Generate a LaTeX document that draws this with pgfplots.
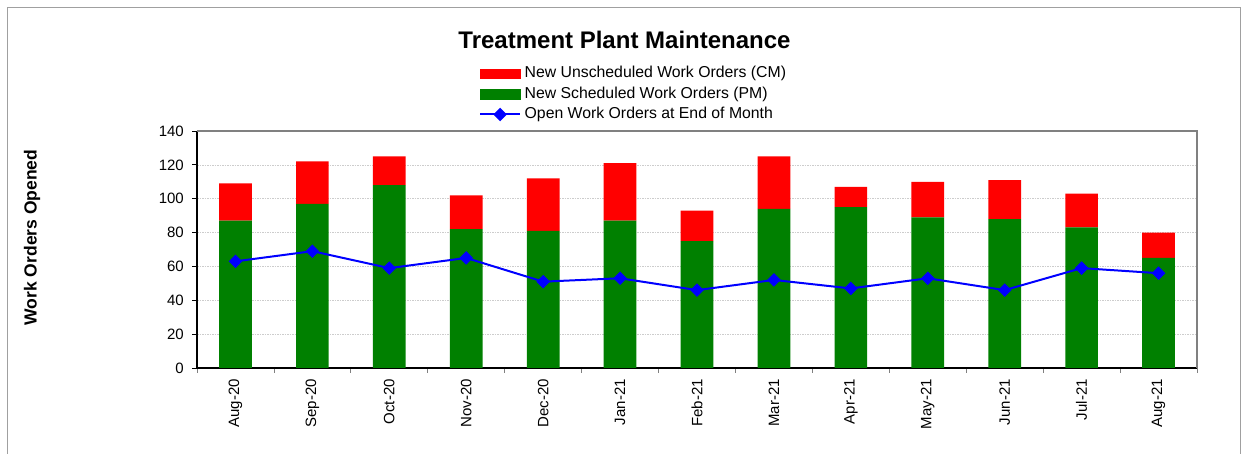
\documentclass[border=0pt]{standalone}
\usepackage{fontspec}
\setmainfont{Liberation Sans}
\usepackage{pgfplots}
\pgfplotsset{compat=1.18}
\definecolor{pmgreen}{HTML}{008000}
\definecolor{cmred}{HTML}{FF0000}
\definecolor{openblue}{HTML}{0000FF}
\definecolor{gridgray}{HTML}{CDCDCD}
\definecolor{framegray}{HTML}{A0A0A0}
\definecolor{boxgray}{HTML}{808080}
\begin{document}
\begin{tikzpicture}[x=1bp,y=1bp]
\useasboundingbox (0,0) rectangle (1241,454);
\draw[framegray, line width=1bp] (7,-3) -- (7,446) -- (1240,446) -- (1240,-3);
\pgfplotsset{
  common/.style={
    at={(197bp,86bp)}, anchor=south west, scale only axis,
    width=1000bp, height=237bp,
    xmin=-0.5, xmax=12.5, ymin=0, ymax=140,
  }
}
\begin{axis}[common,
  ybar stacked, bar width=32.7bp,
  axis lines=left, axis line style={-, black, line width=1.1bp},
  ytick={0,20,...,140},
  xtick={0,...,12},
  xticklabels={Aug-20,Sep-20,Oct-20,Nov-20,Dec-20,Jan-21,Feb-21,Mar-21,Apr-21,May-21,Jun-21,Jul-21,Aug-21},
  minor xtick={-0.5,0.5,...,12.5},
  tick align=outside,
  major tick length=5bp, minor tick length=5bp,
  major x tick style={draw=none},
  minor x tick style={boxgray, line width=0.8bp},
  major y tick style={black, line width=0.8bp},
  ymajorgrids,
  major grid style={gridgray, dash pattern=on 1.5bp off 1bp, line width=0.6bp},
  /pgf/number format/assume math mode=true,
  tick label style={font=\fontsize{15bp}{17bp}\selectfont},
  xticklabel style={rotate=90, anchor=east, inner sep=0pt, xshift=-6bp},
  yticklabel style={anchor=east, inner sep=0pt, xshift=-8bp},
  title={Treatment Plant Maintenance},
  title style={at={(0.4275,1.357)}, anchor=center, yshift=0pt, font=\bfseries\fontsize{24bp}{28bp}\selectfont},
  ylabel={Work Orders Opened},
  ylabel style={at={(-0.1648,0.5506)}, anchor=center, font=\bfseries\fontsize{17.5bp}{20bp}\selectfont},
  clip=false,
]
% New Scheduled Work Orders (PM)
\addplot[fill=pmgreen, draw=none] coordinates {
  (0,87) (1,97) (2,108) (3,82) (4,81) (5,87) (6,75) (7,94) (8,95) (9,89) (10,88) (11,83) (12,65)};
% New Unscheduled Work Orders (CM)
\addplot[fill=cmred, draw=none] coordinates {
  (0,22) (1,25) (2,17) (3,20) (4,31) (5,34) (6,18) (7,31) (8,12) (9,21) (10,23) (11,20) (12,15)};
\draw[boxgray, line width=1.6bp] (rel axis cs:0,1) -- (rel axis cs:1,1) -- (rel axis cs:1,0);
\draw[black, line width=1.1bp] (rel axis cs:0,0) -- (rel axis cs:0,1);
\end{axis}
\begin{axis}[common, hide axis,
  legend style={draw=none, fill=none, inner xsep=0pt, inner ysep=0pt,
    at={(0.282,1.2797)}, anchor=north west,
    nodes={inner sep=2bp, text height=11bp, text depth=3bp},
    row sep=2.3bp,
    /tikz/every odd column/.append style={column sep=1.5bp},
    font=\fontsize{15.8bp}{18bp}\selectfont},
  legend cell align=left,
]
\addlegendimage{legend image code/.code={\fill[cmred] (0bp,-4.6bp) rectangle (40bp,4.6bp);}}
\addlegendentry{New Unscheduled Work Orders (CM)}
\addlegendimage{legend image code/.code={\fill[pmgreen] (0bp,-4.6bp) rectangle (40bp,4.6bp);}}
\addlegendentry{New Scheduled Work Orders (PM)}
\addplot[openblue, line width=2bp, mark=square*, mark size=3.8bp, mark options={rotate=45, solid, fill=openblue},
  legend image code/.code={\draw[openblue, line width=2bp] (0bp,0bp) -- (40bp,0bp);
    \fill[openblue, rotate around={45:(20bp,0bp)}] (16.2bp,-3.8bp) rectangle (23.8bp,3.8bp);}]
  coordinates {
  (0,63) (1,69) (2,59) (3,65) (4,51) (5,53) (6,46) (7,52) (8,47) (9,53) (10,46) (11,59) (12,56)};
\addlegendentry{Open Work Orders at End of Month}
\end{axis}
\end{tikzpicture}
\end{document}
